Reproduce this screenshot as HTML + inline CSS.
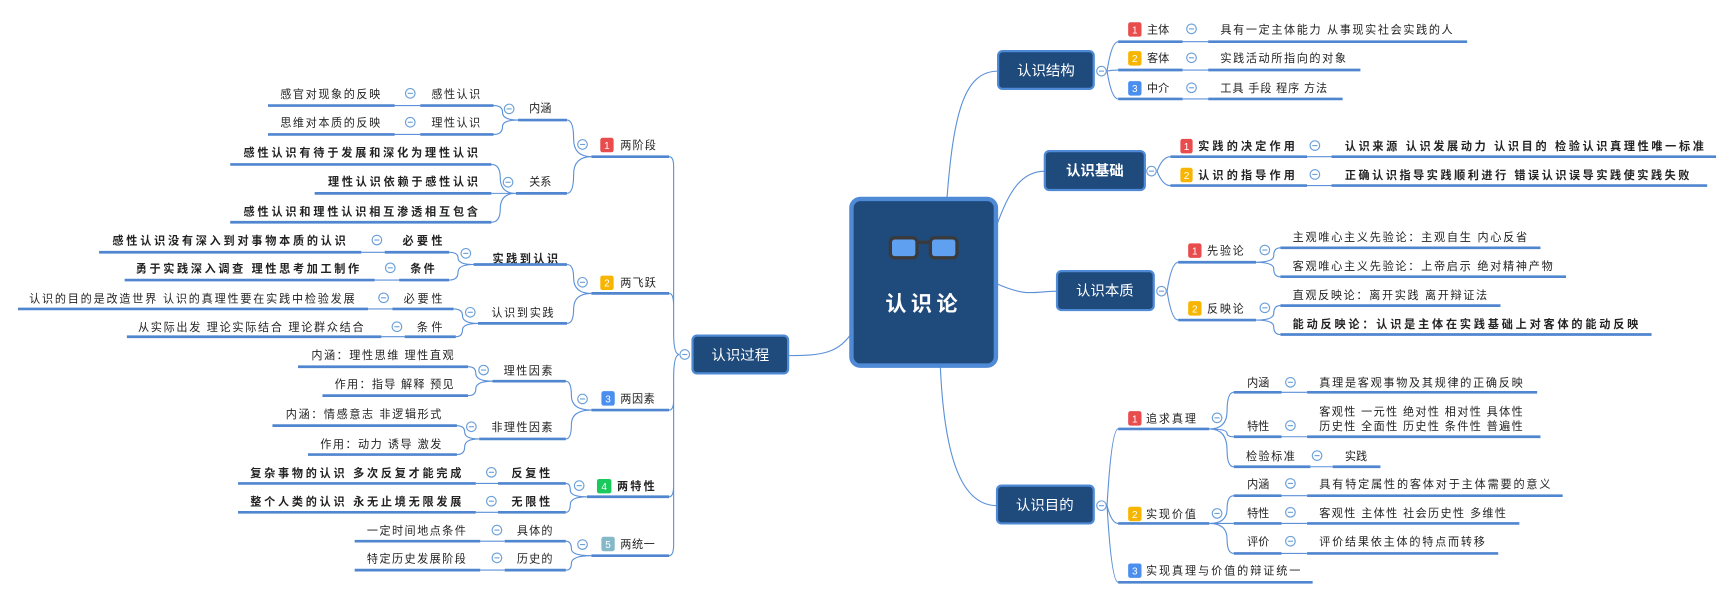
<!DOCTYPE html>
<html><head><meta charset="utf-8"><style>
html,body{margin:0;padding:0;background:#fff;width:1734px;height:599px;overflow:hidden}
svg{display:block}
text{font-family:"Liberation Sans","Noto Sans CJK SC",sans-serif;font-size:10px;fill:#222}
.u{stroke:#4f86cf;stroke-width:2.4;fill:none}
.c{stroke:#5b90d8;stroke-width:1;fill:none}
.m{fill:#1f4a7c;stroke:#4f8ad6;stroke-width:2}
.mt{fill:#fff;font-size:13px;text-anchor:middle}
.b{font-weight:bold}
.cm circle{fill:#fff;stroke:#6a9fd8;stroke-width:1}
.bd text{fill:#fff;font-size:9px;font-weight:bold;text-anchor:middle}
</style></head><body>
<svg width="1734" height="599" viewBox="0 0 1560 539" xmlns="http://www.w3.org/2000/svg">
<defs>
<g id="ci"><circle cx="0" cy="0" r="4.3" fill="#fff" stroke="#6a9fd8" stroke-width="1"/><line x1="-2.3" y1="0" x2="2.3" y2="0" stroke="#6a9fd8" stroke-width="1"/></g>
</defs>

<!-- center connectors -->
<path class="c" d="M852 178 C858 100 868 64 898 64"/>
<path class="c" d="M896 205 C908 170 920 154 940 154"/>
<path class="c" d="M896 255 C925 268 930 262 951 262"/>
<path class="c" d="M846 330 C850 420 868 455 897 455"/>
<path class="c" d="M768 297 C755 318 740 320 709 320"/>

<!-- center node -->
<rect x="766" y="179" width="130" height="150" rx="8" fill="#1f4a7c" stroke="#4f8ad6" stroke-width="4"/>
<rect x="801" y="214" width="24" height="18" rx="4" fill="#5fa0f0" stroke="#3a3a3a" stroke-width="3"/>
<rect x="837" y="214" width="24" height="18" rx="4" fill="#5fa0f0" stroke="#3a3a3a" stroke-width="3"/>
<line x1="825" y1="218" x2="837" y2="218" stroke="#3a3a3a" stroke-width="3"/>
<text x="831" y="280" style="fill:#fff;font-size:19px;font-weight:bold;letter-spacing:4px" text-anchor="middle">认识论</text>

<!-- main nodes -->
<rect class="m" x="898" y="46" width="86" height="34" rx="4"/><text class="mt" x="941" y="68">认识结构</text>
<rect class="m" x="940" y="136" width="90" height="35" rx="4"/><text class="mt b" x="985" y="158">认识基础</text>
<rect class="m" x="951" y="244" width="87" height="35" rx="4"/><text class="mt" x="994" y="266">认识本质</text>
<rect class="m" x="897" y="437" width="87" height="34" rx="4"/><text class="mt" x="940" y="459">认识目的</text>
<rect class="m" x="623" y="302" width="86" height="34" rx="4"/><text class="mt" x="666" y="324">认识过程</text>
<use href="#ci" x="991" y="64"/><use href="#ci" x="1036" y="154"/><use href="#ci" x="1045" y="262"/><use href="#ci" x="991" y="455"/><use href="#ci" x="616" y="319"/>

<!-- 认识结构 -->
<path class="c" d="M996 64 Q1000 37.5 1006 37.5 M996 64 Q1000 63 1006 63 M996 64 Q1000 89 1006 89"/>
<rect x="1015" y="20" width="12" height="13" rx="2" fill="#e84c4c"/><text x="1021" y="30" style="fill:#fff;font-size:9px" text-anchor="middle">1</text>
<text x="1032" y="30">主体</text><use href="#ci" x="1072" y="26"/>
<text x="1098" y="30" textLength="209">具有一定主体能力 从事现实社会实践的人</text>
<line class="u" x1="1006" y1="37.5" x2="1064" y2="37.5"/><path class="c" d="M1064 37.5 H1087"/><line class="u" x1="1087" y1="37.5" x2="1320" y2="37.5"/>
<rect x="1015" y="46" width="12" height="13" rx="2" fill="#f7b500"/><text x="1021" y="56" style="fill:#fff;font-size:9px" text-anchor="middle">2</text>
<text x="1032" y="56">客体</text><use href="#ci" x="1072" y="52"/>
<text x="1098" y="56" textLength="113">实践活动所指向的对象</text>
<line class="u" x1="1006" y1="63" x2="1064" y2="63"/><path class="c" d="M1064 63 H1087"/><line class="u" x1="1087" y1="63" x2="1224" y2="63"/>
<rect x="1015" y="73" width="12" height="13" rx="2" fill="#4a8ef0"/><text x="1021" y="83" style="fill:#fff;font-size:9px" text-anchor="middle">3</text>
<text x="1032" y="83">中介</text><use href="#ci" x="1072" y="79"/>
<text x="1098" y="83" textLength="96">工具 手段 程序 方法</text>
<line class="u" x1="1006" y1="89" x2="1064" y2="89"/><path class="c" d="M1064 89 H1087"/><line class="u" x1="1087" y1="89" x2="1208" y2="89"/>

<!-- 认识基础 -->
<path class="c" d="M1041 154 Q1046 141 1053 141 M1041 154 Q1046 167 1053 167"/>
<rect x="1062" y="125" width="11" height="13" rx="2" fill="#e84c4c"/><text x="1067.5" y="135" style="fill:#fff;font-size:9px" text-anchor="middle">1</text>
<text class="b" x="1078" y="135" textLength="87">实践的决定作用</text><use href="#ci" x="1183" y="131"/>
<text class="b" x="1210" y="135" textLength="323">认识来源 认识发展动力 认识目的 检验认识真理性唯一标准</text>
<line class="u" x1="1053" y1="141" x2="1176" y2="141"/><path class="c" d="M1176 141 H1198"/><line class="u" x1="1198" y1="141" x2="1544" y2="141"/>
<rect x="1062" y="151" width="11" height="13" rx="2" fill="#f7b500"/><text x="1067.5" y="161" style="fill:#fff;font-size:9px" text-anchor="middle">2</text>
<text class="b" x="1078" y="161" textLength="87">认识的指导作用</text><use href="#ci" x="1183" y="157"/>
<text class="b" x="1210" y="161" textLength="310">正确认识指导实践顺利进行 错误认识误导实践使实践失败</text>
<line class="u" x1="1053" y1="167" x2="1176" y2="167"/><path class="c" d="M1176 167 H1198"/><line class="u" x1="1198" y1="167" x2="1536" y2="167"/>

<!-- 认识本质 -->
<path class="c" d="M1050 262 Q1054 236 1060 236 M1050 262 Q1054 288 1060 288"/>
<rect x="1069" y="219" width="12" height="13" rx="2" fill="#e84c4c"/><text x="1075" y="229" style="fill:#fff;font-size:9px" text-anchor="middle">1</text>
<text x="1086" y="229" textLength="33">先验论</text><use href="#ci" x="1138" y="225"/>
<line class="u" x1="1060" y1="236" x2="1130" y2="236"/>
<path class="c" d="M1130 236 Q1146 236 1146 230 Q1146 223 1152 223 M1130 236 Q1146 236 1146 242 Q1146 249 1152 249"/>
<text x="1163" y="217" textLength="211">主观唯心主义先验论：主观自生 内心反省</text><line class="u" x1="1152" y1="223" x2="1386" y2="223"/>
<text x="1163" y="243" textLength="234">客观唯心主义先验论：上帝启示 绝对精神产物</text><line class="u" x1="1152" y1="249" x2="1409" y2="249"/>
<rect x="1069" y="271" width="12" height="13" rx="2" fill="#f7b500"/><text x="1075" y="281" style="fill:#fff;font-size:9px" text-anchor="middle">2</text>
<text x="1086" y="281" textLength="33">反映论</text><use href="#ci" x="1138" y="277"/>
<line class="u" x1="1060" y1="288" x2="1130" y2="288"/>
<path class="c" d="M1130 288 Q1146 288 1146 282 Q1146 275 1152 275 M1130 288 Q1146 288 1146 294 Q1146 301 1152 301"/>
<text x="1163" y="269" textLength="175">直观反映论：离开实践 离开辩证法</text><line class="u" x1="1152" y1="275" x2="1350" y2="275"/>
<text class="b" x="1163" y="295" textLength="311">能动反映论：认识是主体在实践基础上对客体的能动反映</text><line class="u" x1="1152" y1="301" x2="1486" y2="301"/>

<!-- 认识目的 -->
<path class="c" d="M996 455 Q1000 386 1006 386 M996 455 Q1000 471 1006 471 M996 455 Q1000 524 1006 524"/>
<rect x="1015" y="370" width="12" height="13" rx="2" fill="#e84c4c"/><text x="1021" y="380" style="fill:#fff;font-size:9px" text-anchor="middle">1</text>
<text x="1031" y="380" textLength="45">追求真理</text><use href="#ci" x="1095" y="376"/>
<line class="u" x1="1006" y1="386" x2="1088" y2="386"/>
<path class="c" d="M1088 386 Q1104 386 1104 370 Q1104 353 1110 353 M1088 386 Q1104 386 1104 390 Q1104 393 1110 393 M1088 386 Q1104 386 1104 405 Q1104 420 1110 420"/>
<text x="1122" y="348">内涵</text><use href="#ci" x="1161" y="344"/>
<text x="1187" y="348" textLength="183">真理是客观事物及其规律的正确反映</text>
<line class="u" x1="1110" y1="353" x2="1153" y2="353"/><path class="c" d="M1153 353 H1176"/><line class="u" x1="1176" y1="353" x2="1383" y2="353"/>
<text x="1122" y="387">特性</text><use href="#ci" x="1161" y="383"/>
<text x="1187" y="374" textLength="183">客观性 一元性 绝对性 相对性 具体性</text>
<text x="1187" y="387" textLength="183">历史性 全面性 历史性 条件性 普遍性</text>
<line class="u" x1="1110" y1="393" x2="1153" y2="393"/><path class="c" d="M1153 393 H1176"/><line class="u" x1="1176" y1="393" x2="1386" y2="393"/>
<text x="1121" y="414" textLength="44">检验标准</text><use href="#ci" x="1185" y="410"/>
<text x="1210" y="414">实践</text>
<line class="u" x1="1110" y1="420" x2="1179" y2="420"/><path class="c" d="M1179 420 H1199"/><line class="u" x1="1199" y1="420" x2="1242" y2="420"/>

<rect x="1015" y="456" width="12" height="13" rx="2" fill="#f7b500"/><text x="1021" y="466" style="fill:#fff;font-size:9px" text-anchor="middle">2</text>
<text x="1031" y="466" textLength="45">实现价值</text><use href="#ci" x="1095" y="462"/>
<line class="u" x1="1006" y1="471" x2="1088" y2="471"/>
<path class="c" d="M1088 471 Q1104 471 1104 458 Q1104 446 1110 446 M1088 471 H1110 M1088 471 Q1104 471 1104 485 Q1104 498 1110 498"/>
<text x="1122" y="439">内涵</text><use href="#ci" x="1161" y="435"/>
<text x="1187" y="439" textLength="208">具有特定属性的客体对于主体需要的意义</text>
<line class="u" x1="1110" y1="446" x2="1153" y2="446"/><path class="c" d="M1153 446 H1176"/><line class="u" x1="1176" y1="446" x2="1406" y2="446"/>
<text x="1122" y="465">特性</text><use href="#ci" x="1161" y="461"/>
<text x="1187" y="465" textLength="168">客观性 主体性 社会历史性 多维性</text>
<line class="u" x1="1110" y1="471" x2="1153" y2="471"/><path class="c" d="M1153 471 H1176"/><line class="u" x1="1176" y1="471" x2="1367" y2="471"/>
<text x="1122" y="491">评价</text><use href="#ci" x="1161" y="487"/>
<text x="1187" y="491" textLength="149">评价结果依主体的特点而转移</text>
<line class="u" x1="1110" y1="498" x2="1153" y2="498"/><path class="c" d="M1153 498 H1176"/><line class="u" x1="1176" y1="498" x2="1348" y2="498"/>
<rect x="1015" y="507" width="12" height="13" rx="2" fill="#4a8ef0"/><text x="1021" y="517" style="fill:#fff;font-size:9px" text-anchor="middle">3</text>
<text x="1031" y="517" textLength="139">实现真理与价值的辩证统一</text>
<line class="u" x1="1006" y1="524" x2="1181" y2="524"/>

<!-- 认识过程 spine -->
<path class="c" d="M611 319 Q606 319 606 300 L606 150 Q606 141 602 141 M611 319 Q606 319 606 300 L606 275 Q606 264 602 264 M611 319 Q606 319 606 340 L606 360 Q606 369 602 369 M611 319 Q606 319 606 340 L606 437 Q606 447 602 447 M611 319 Q606 319 606 340 L606 490 Q606 500 602 500"/>

<!-- 1 两阶段 -->
<rect x="540" y="124" width="12" height="13" rx="2" fill="#e84c4c"/><text x="546" y="134" style="fill:#fff;font-size:9px" text-anchor="middle">1</text>
<text x="558" y="134" textLength="32">两阶段</text><use href="#ci" x="524" y="130"/>
<line class="u" x1="532" y1="141" x2="602" y2="141"/>
<path class="c" d="M532 141 Q516 141 516 125 Q516 108 510 108 M532 141 Q516 141 516 157 Q516 174 510 174"/>
<text x="476" y="101">内涵</text><use href="#ci" x="458" y="98"/>
<line class="u" x1="466" y1="108" x2="510" y2="108"/>
<path class="c" d="M466 108 Q452 108 452 101 Q452 95 444 95 M466 108 Q452 108 452 114 Q452 121 444 121"/>
<text x="388" y="88" textLength="44">感性认识</text><use href="#ci" x="369" y="84"/>
<text x="252" y="88" textLength="90">感官对现象的反映</text>
<line class="u" x1="241" y1="95" x2="355" y2="95"/><path class="c" d="M355 95 H378"/><line class="u" x1="378" y1="95" x2="444" y2="95"/>
<text x="388" y="114" textLength="44">理性认识</text><use href="#ci" x="369" y="110"/>
<text x="252" y="114" textLength="90">思维对本质的反映</text>
<line class="u" x1="241" y1="121" x2="355" y2="121"/><path class="c" d="M355 121 H378"/><line class="u" x1="378" y1="121" x2="444" y2="121"/>
<text x="476" y="167">关系</text><use href="#ci" x="457" y="164"/>
<line class="u" x1="464" y1="174" x2="510" y2="174"/>
<path class="c" d="M464 174 Q450 174 450 160 Q450 148 442 148 M464 174 H442 M464 174 Q450 174 450 188 Q450 200 442 200"/>
<text class="b" x="219" y="141" textLength="211">感性认识有待于发展和深化为理性认识</text><line class="u" x1="207" y1="148" x2="442" y2="148"/>
<text class="b" x="295" y="167" textLength="135">理性认识依赖于感性认识</text><line class="u" x1="283" y1="174" x2="442" y2="174"/>
<text class="b" x="219" y="194" textLength="211">感性认识和理性认识相互渗透相互包含</text><line class="u" x1="207" y1="200" x2="442" y2="200"/>

<!-- 2 两飞跃 -->
<rect x="540" y="248" width="12" height="13" rx="2" fill="#f7b500"/><text x="546" y="258" style="fill:#fff;font-size:9px" text-anchor="middle">2</text>
<text x="558" y="258" textLength="32">两飞跃</text><use href="#ci" x="524" y="254"/>
<line class="u" x1="532" y1="264" x2="602" y2="264"/>
<path class="c" d="M532 264 Q516 264 516 250 Q516 238 510 238 M532 264 Q516 264 516 278 Q516 291 510 291"/>
<text class="b" x="443" y="236" textLength="59">实践到认识</text><use href="#ci" x="419" y="228"/>
<line class="u" x1="426" y1="238" x2="510" y2="238"/>
<path class="c" d="M426 238 Q412 238 412 232 Q412 227 404 227 M426 238 Q412 238 412 245 Q412 252 404 252"/>
<text class="b" x="362" y="220" textLength="36">必要性</text><use href="#ci" x="339" y="216"/>
<text class="b" x="101" y="220" textLength="210">感性认识没有深入到对事物本质的认识</text>
<line class="u" x1="89" y1="227" x2="325" y2="227"/><path class="c" d="M325 227 H346"/><line class="u" x1="346" y1="227" x2="404" y2="227"/>
<text class="b" x="369" y="245" textLength="22">条件</text><use href="#ci" x="351" y="241"/>
<text class="b" x="122" y="245" textLength="201">勇于实践深入调查 理性思考加工制作</text>
<line class="u" x1="112" y1="252" x2="337" y2="252"/><path class="c" d="M337 252 H359"/><line class="u" x1="359" y1="252" x2="404" y2="252"/>
<text x="442" y="285" textLength="56">认识到实践</text><use href="#ci" x="423" y="281"/>
<line class="u" x1="430" y1="291" x2="510" y2="291"/>
<path class="c" d="M430 291 Q416 291 416 284 Q416 278 408 278 M430 291 Q416 291 416 297 Q416 303 410 303"/>
<text x="363" y="272" textLength="35">必要性</text><use href="#ci" x="345" y="268"/>
<text x="26" y="272" textLength="293">认识的目的是改造世界 认识的真理性要在实践中检验发展</text>
<line class="u" x1="16" y1="278" x2="331" y2="278"/><path class="c" d="M331 278 H353"/><line class="u" x1="353" y1="278" x2="408" y2="278"/>
<text x="375" y="298" textLength="23">条件</text><use href="#ci" x="357" y="294"/>
<text x="124" y="298" textLength="203">从实际出发 理论实际结合 理论群众结合</text>
<line class="u" x1="114" y1="303" x2="343" y2="303"/><path class="c" d="M343 303 H364"/><line class="u" x1="364" y1="303" x2="410" y2="303"/>

<!-- 3 两因素 -->
<rect x="541" y="352" width="12" height="13" rx="2" fill="#4a8ef0"/><text x="547" y="362" style="fill:#fff;font-size:9px" text-anchor="middle">3</text>
<text x="558" y="362" textLength="31">两因素</text><use href="#ci" x="524" y="359"/>
<line class="u" x1="532" y1="369" x2="602" y2="369"/>
<path class="c" d="M532 369 Q514 369 514 356 Q514 343 509 343 M532 369 Q514 369 514 382 Q514 395 509 395"/>
<text x="453" y="337" textLength="44">理性因素</text><use href="#ci" x="435" y="333"/>
<line class="u" x1="443" y1="343" x2="509" y2="343"/>
<path class="c" d="M443 343 Q428 343 428 336 Q428 330 421 330 M443 343 Q428 343 428 350 Q428 356 421 356"/>
<text x="280" y="323" textLength="128">内涵：理性思维 理性直观</text><line class="u" x1="268" y1="330" x2="421" y2="330"/>
<text x="301" y="349" textLength="107">作用：指导 解释 预见</text><line class="u" x1="290" y1="356" x2="421" y2="356"/>
<text x="442" y="388" textLength="55">非理性因素</text><use href="#ci" x="424" y="384"/>
<line class="u" x1="431" y1="395" x2="509" y2="395"/>
<path class="c" d="M431 395 Q418 395 418 389 Q418 383 411 383 M431 395 Q418 395 418 402 Q418 409 411 409"/>
<text x="257" y="376" textLength="140">内涵：情感意志 非逻辑形式</text><line class="u" x1="245" y1="383" x2="411" y2="383"/>
<text x="288" y="403" textLength="109">作用：动力 诱导 激发</text><line class="u" x1="277" y1="409" x2="411" y2="409"/>

<!-- 4 两特性 -->
<rect x="537" y="431" width="13" height="13" rx="2" fill="#19c95c"/><text x="543.5" y="441" style="fill:#fff;font-size:9px" text-anchor="middle">4</text>
<text class="b" x="555" y="441" textLength="34">两特性</text><use href="#ci" x="521" y="437"/>
<line class="u" x1="528" y1="447" x2="602" y2="447"/>
<path class="c" d="M528 447 Q513 447 513 441 Q513 435 509 435 M528 447 Q513 447 513 454 Q513 461 509 461"/>
<text class="b" x="460" y="429" textLength="35">反复性</text><use href="#ci" x="442" y="425"/>
<text class="b" x="225" y="429" textLength="190">复杂事物的认识 多次反复才能完成</text>
<line class="u" x1="214" y1="435" x2="428" y2="435"/><path class="c" d="M428 435 H448"/><line class="u" x1="448" y1="435" x2="509" y2="435"/>
<text class="b" x="460" y="455" textLength="35">无限性</text><use href="#ci" x="442" y="451"/>
<text class="b" x="225" y="455" textLength="190">整个人类的认识 永无止境无限发展</text>
<line class="u" x1="214" y1="461" x2="428" y2="461"/><path class="c" d="M428 461 H448"/><line class="u" x1="448" y1="461" x2="509" y2="461"/>

<!-- 5 两统一 -->
<rect x="541" y="483" width="12" height="13" rx="2" fill="#86b9c8"/><text x="547" y="493" style="fill:#fff;font-size:9px" text-anchor="middle">5</text>
<text x="558" y="493" textLength="31">两统一</text><use href="#ci" x="524" y="490"/>
<line class="u" x1="532" y1="500" x2="602" y2="500"/>
<path class="c" d="M532 500 Q514 500 514 494 Q514 487 509 487 M532 500 Q514 500 514 507 Q514 513 509 513"/>
<text x="465" y="481" textLength="32">具体的</text><use href="#ci" x="447" y="477"/>
<text x="330" y="481" textLength="89">一定时间地点条件</text>
<line class="u" x1="319" y1="487" x2="432" y2="487"/><path class="c" d="M432 487 H454"/><line class="u" x1="454" y1="487" x2="509" y2="487"/>
<text x="465" y="506" textLength="32">历史的</text><use href="#ci" x="447" y="502"/>
<text x="330" y="506" textLength="89">特定历史发展阶段</text>
<line class="u" x1="319" y1="513" x2="432" y2="513"/><path class="c" d="M432 513 H454"/><line class="u" x1="454" y1="513" x2="509" y2="513"/>
</svg>
</body></html>
